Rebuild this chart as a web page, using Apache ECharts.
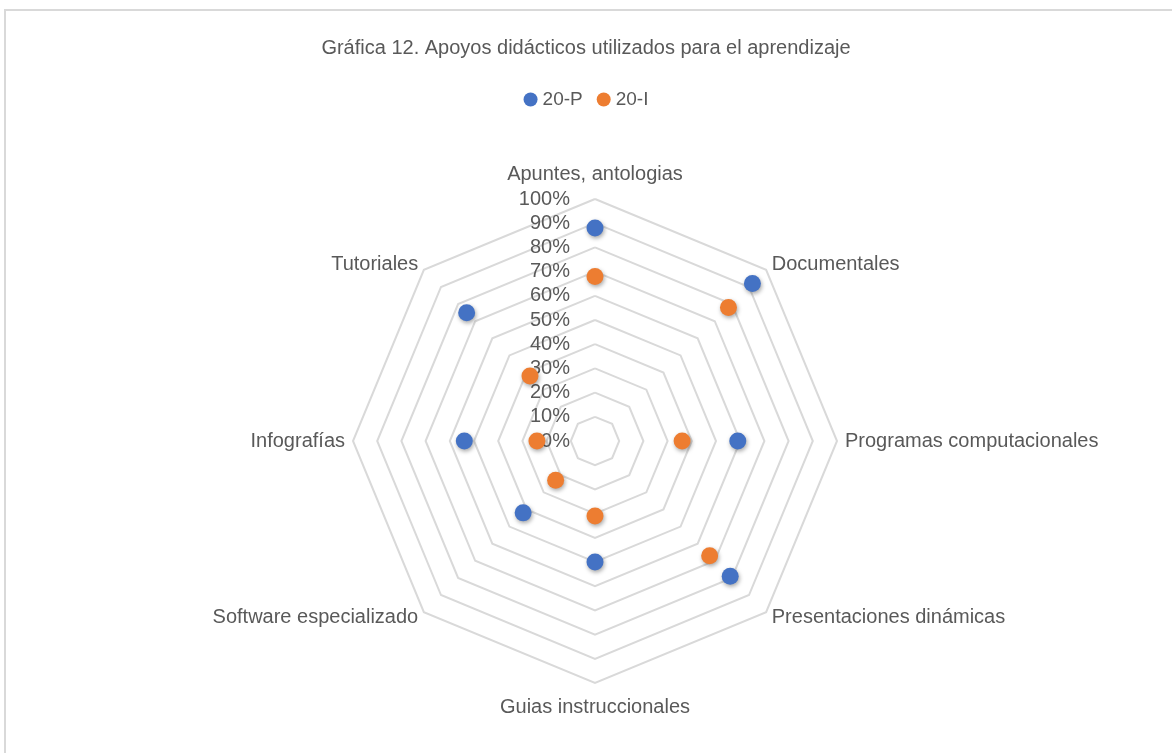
<!DOCTYPE html>
<html><head><meta charset="utf-8">
<script src="https://cdn.jsdelivr.net/npm/echarts@6/dist/echarts.min.js"></script>
<style>html,body{margin:0;padding:0;background:#fff}#c{width:1172px;height:753px}</style>
</head><body><div id="c"></div>
<script>
const categories = ["Apuntes, antologias", "Documentales", "Programas computacionales", "Presentaciones dinámicas", "Guias instruccionales", "Software especializado", "Infografías", "Tutoriales"];
const serie20P = [0.88, 0.92, 0.59, 0.79, 0.50, 0.42, 0.54, 0.75];
const serie20I = [0.68, 0.78, 0.36, 0.67, 0.31, 0.23, 0.24, 0.38];
const tickLabels = ["0%", "10%", "20%", "30%", "40%", "50%", "60%", "70%", "80%", "90%", "100%"];
const seriesNames = ["20-P", "20-I"];

const FONT = '"Liberation Sans Narrow", "Arial Narrow", "Liberation Sans", sans-serif';
const TXT = '#595959';
// ECharts places radar indicators counter-clockwise; reorder so they read clockwise like the original
const order = [0, 7, 6, 5, 4, 3, 2, 1];
const ind = order.map(i => ({ name: categories[i], min: 0, max: 1 }));
const p = order.map(i => serie20P[i]);
const q = order.map(i => serie20I[i]);

const chart = echarts.init(document.getElementById('c'), null, { renderer: 'canvas' });
const markerStyle = (c) => ({ color: c, shadowBlur: 4, shadowColor: 'rgba(0,0,0,0.35)', shadowOffsetX: 1, shadowOffsetY: 2 });
chart.setOption({
  animation: false,
  backgroundColor: '#fff',
  textStyle: { fontFamily: FONT },
  color: ['#4472C4', '#ED7D31'],
  graphic: [{ type: 'rect', silent: true, shape: { x: 5, y: 10, width: 1180, height: 760 },
    style: { fill: 'none', stroke: '#d9d9d9', lineWidth: 2 } }],
  title: { text: 'Gráfica 12. Apoyos didácticos utilizados para el aprendizaje', left: 'center', top: 33,
    textStyle: { fontFamily: FONT, fontSize: 20, fontWeight: 'normal', color: TXT } },
  legend: { data: seriesNames, top: 85, left: 'center', icon: 'circle', itemWidth: 14, itemHeight: 14, itemGap: 14,
    textStyle: { fontFamily: FONT, fontSize: 19, color: TXT } },
  grid: { left: 574, top: 199, width: 10, height: 242 },
  xAxis: { type: 'value', show: false },
  yAxis: { type: 'value', min: 0, max: 1, interval: 0.1,
    axisLine: { show: false }, axisTick: { show: false }, splitLine: { show: false },
    axisLabel: { margin: 4, fontFamily: FONT, fontSize: 20, color: TXT,
      formatter: v => tickLabels[Math.round(v * 10)] } },
  radar: {
    center: [595, 441], radius: 242, startAngle: 90, splitNumber: 10, shape: 'polygon',
    indicator: ind,
    axisLine: { show: false }, axisTick: { show: false }, axisLabel: { show: false },
    splitArea: { show: false },
    splitLine: { lineStyle: { color: '#d9d9d9', width: 2 } },
    axisName: { color: TXT, fontFamily: FONT, fontSize: 20,
      formatter: (name) => name === categories[0] ? '{top|' + name + '}' : (name === categories[4] ? '{bot|' + name + '}' : name),
      rich: {
        top: { color: TXT, fontFamily: FONT, fontSize: 20, padding: [0, 0, 7, 0] },
        bot: { color: TXT, fontFamily: FONT, fontSize: 20, padding: [6, 0, 0, 0] }
      } },
    nameGap: 8
  },
  series: [{
    type: 'radar', z: 3,
    data: [
      { name: seriesNames[0], value: p, symbol: 'circle', symbolSize: 17, lineStyle: { width: 0, opacity: 0 }, itemStyle: markerStyle('#4472C4') },
      { name: seriesNames[1], value: q, symbol: 'circle', symbolSize: 17, lineStyle: { width: 0, opacity: 0 }, itemStyle: markerStyle('#ED7D31') }
    ]
  }]
});
</script></body></html>
